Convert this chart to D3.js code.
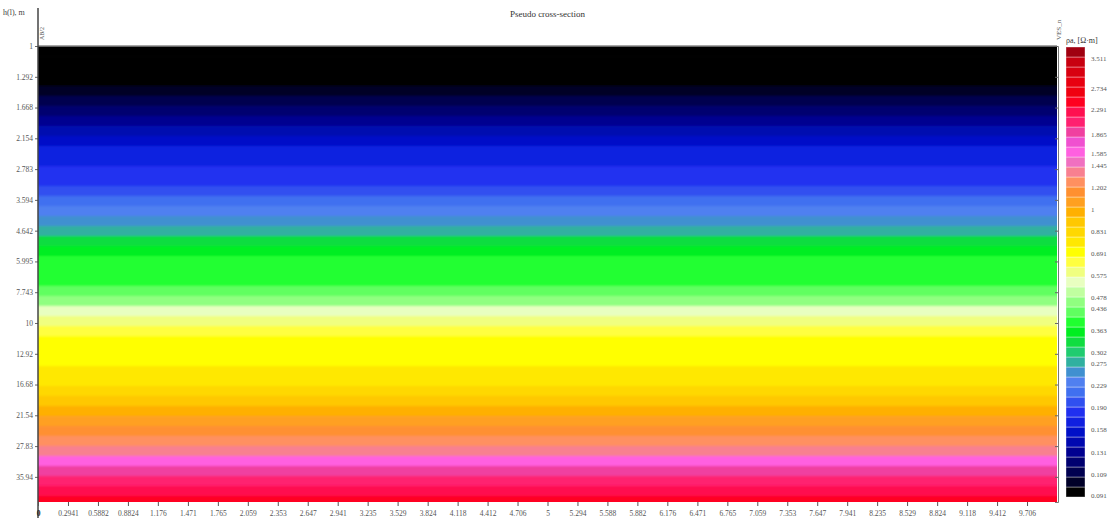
<!DOCTYPE html>
<html>
<head>
<meta charset="utf-8">
<script src="https://cdn.jsdelivr.net/npm/d3@7"></script>
<style>
  body { margin: 0; background: #fff; }
  text { font-family: 'Liberation Serif', serif; }
</style>
</head>
<body>
<script>
// depth of layer boundaries, m (AB/2 pseudo-depth)
const depthEdges = [1, 1.087, 1.181, 1.283, 1.394, 1.515, 1.647, 1.789, 1.945, 2.113, 2.296, 2.495,
  2.712, 2.947, 3.202, 3.479, 3.781, 4.109, 4.465, 4.852, 5.272, 5.729, 6.226, 6.765, 7.352, 7.989,
  8.681, 9.434, 10.25, 11.14, 12.11, 13.15, 14.3, 15.53, 16.88, 18.34, 19.93, 21.66, 23.54, 25.58,
  27.8, 30.21, 32.83, 35.67, 38.77, 42.12, 44.29]
// apparent resistivity of each layer
const rhoRows = [0.092, 0.093, 0.094, 0.096, 0.102, 0.111, 0.121, 0.131, 0.143, 0.155, 0.168, 0.17,
  0.183, 0.186, 0.199, 0.216, 0.235, 0.256, 0.278, 0.329, 0.357, 0.388, 0.39, 0.392, 0.423, 0.459,
  0.543, 0.59, 0.642, 0.698, 0.7, 0.705, 0.759, 0.762, 0.825, 0.897, 0.975, 1.06, 1.152, 1.253,
  1.362, 1.61, 1.903, 2.069, 2.249, 2.446]

const depthTicks = [1, 1.292, 1.668, 2.154, 2.783, 3.594, 4.642, 5.995, 7.743, 10, 12.92, 16.68, 21.54, 27.83, 35.94]
const depthLabels = ['1', '1.292', '1.668', '2.154', '2.783', '3.594', '4.642', '5.995', '7.743', '10',
  '12.92', '16.68', '21.54', '27.83', '35.94']

const xTicks = [0, 0.2941, 0.5882, 0.8824, 1.176, 1.471, 1.765, 2.059, 2.353, 2.647, 2.941, 3.235,
  3.529, 3.824, 4.118, 4.412, 4.706, 5, 5.294, 5.588, 5.882, 6.176, 6.471, 6.765, 7.059, 7.353,
  7.647, 7.941, 8.235, 8.529, 8.824, 9.118, 9.412, 9.706]

// palette, low -> high resistivity
const legendColors = ['#000000', '#000028', '#000050', '#000070', '#000090', '#0008b0', '#0010c8',
  '#1020e0', '#2030f0', '#3050f0', '#4070f0', '#5080f0', '#4090d0', '#30b0a0', '#20cc70', '#10dd40',
  '#00ee20', '#20ff30', '#60ff60', '#90ff80', '#c0ffa0', '#e8ffc0', '#f0ff80', '#ffff40', '#ffff00',
  '#ffe800', '#ffd800', '#ffc800', '#ffb000', '#ffa020', '#ff9030', '#ff9060', '#f88090', '#f070c0',
  '#ff60e0', '#f050d0', '#f040a0', '#ff2070', '#ff1050', '#ff0020', '#f00010', '#e80010', '#d80010',
  '#c80010', '#a00010']
const legendTicks = [3.511, 2.734, 2.291, 1.865, 1.585, 1.445, 1.202, 1, 0.831, 0.691, 0.575, 0.478,
  0.436, 0.363, 0.302, 0.275, 0.229, 0.19, 0.158, 0.131, 0.109, 0.091]
const legendLabels = ['3.511', '2.734', '2.291', '1.865', '1.585', '1.445', '1.202', '1', '0.831',
  '0.691', '0.575', '0.478', '0.436', '0.363', '0.302', '0.275', '0.229', '0.190', '0.158', '0.131',
  '0.109', '0.091']

const w = 1113
const h = 519
const svg = d3.select('body').append('svg').attr('width', w).attr('height', h)

const x = d3.scaleLinear().domain([0, 10]).range([38, 1057])
const y = d3.scaleLog().domain([1, 44.29]).range([46, 502])
const rhoMin = 0.09
const rhoMax = 3.88
const color = d3.scaleQuantize().domain([Math.log(rhoMin), Math.log(rhoMax)]).range(legendColors)
const ly = d3.scaleLog().domain([rhoMin, rhoMax]).range([497, 47])

const defs = svg.append('defs')
defs.append('clipPath').attr('id', 'plot')
  .append('rect').attr('x', x(0)).attr('y', y(1)).attr('width', x(10) - x(0)).attr('height', y(44.29) - y(1))
defs.append('filter').attr('id', 'soft').attr('x', '-2%').attr('y', '-5%').attr('width', '104%').attr('height', '110%')
  .append('feGaussianBlur').attr('stdDeviation', '0 1.3').attr('edgeMode', 'duplicate')

// pseudo-section
svg.append('g')
  .attr('clip-path', 'url(#plot)')
  .append('g')
  .attr('filter', 'url(#soft)')
  .selectAll('rect')
  .data(rhoRows)
  .enter()
  .append('rect')
  .attr('x', x(0))
  .attr('width', x(10) - x(0))
  .attr('y', (d, i) => y(depthEdges[i]) - (i === 0 ? 4 : 0))
  .attr('height', (d, i) => y(depthEdges[i + 1]) - y(depthEdges[i]) + (i === 0 || i === rhoRows.length - 1 ? 4.5 : 0.5))
  .attr('fill', (d) => color(Math.log(d)))

// frame lines
svg.append('line').attr('x1', x(0)).attr('x2', x(10)).attr('y1', 46).attr('y2', 46)
  .attr('stroke', '#888').attr('stroke-width', 1.5)

// left axis
const yAxis = d3.axisLeft(y).tickValues(depthTicks).tickFormat((d, i) => depthLabels[i]).tickSize(3)
const gy = svg.append('g').attr('transform', `translate(${x(0)},0)`).call(yAxis)
gy.select('.domain').remove()
gy.selectAll('text').attr('font-size', 7.5).attr('fill', '#555').attr('dx', 1)
gy.selectAll('line').attr('stroke', '#666')
svg.append('line').attr('x1', x(0)).attr('x2', x(0)).attr('y1', 8).attr('y2', 518)
  .attr('stroke', '#444').attr('stroke-width', 1.5)

// right axis
const yAxisR = d3.axisLeft(y).tickValues(depthTicks).tickFormat('').tickSize(3)
const gr = svg.append('g').attr('transform', `translate(${x(10) + 1},0)`).call(yAxisR)
gr.select('.domain').attr('stroke', '#777')
gr.selectAll('line').attr('stroke', '#666')

// bottom axis
const xAxis = d3.axisBottom(x).tickValues(xTicks).tickSize(4)
  .tickFormat((d) => (d === 0 ? '0' : String(d)))
const gx = svg.append('g').attr('transform', `translate(0,${y(44.29)})`).call(xAxis)
gx.select('.domain').remove()
gx.selectAll('line').attr('stroke', '#555')
gx.selectAll('text').attr('font-size', 7.5).attr('fill', '#555').attr('dy', '0.9em')
gx.selectAll('.tick').filter((d) => d === 0).select('text').attr('font-weight', 'bold').attr('fill', '#222')

// titles
svg.append('text').attr('x', (x(0) + x(10)) / 2).attr('y', 17).attr('text-anchor', 'middle')
  .attr('font-size', 9).attr('fill', '#333').text('Pseudo cross-section')
svg.append('text').attr('x', 3).attr('y', 15).attr('font-size', 8).attr('fill', '#444').text('h(l), m')
svg.append('text').attr('transform', 'translate(44,40) rotate(-90)').attr('font-size', 6)
  .attr('fill', '#555').text('AB/2')
svg.append('text').attr('transform', `translate(${x(10) + 4},40) rotate(-90)`).attr('font-size', 7)
  .attr('fill', '#555').text('VES_n')

// legend
const edges = [rhoMin, ...color.thresholds().map(Math.exp), rhoMax]
const lg = svg.append('g')
lg.selectAll('rect')
  .data(legendColors)
  .enter()
  .append('rect')
  .attr('x', 1066)
  .attr('width', 19)
  .attr('y', (d, i) => ly(edges[i + 1]))
  .attr('height', (d, i) => ly(edges[i]) - ly(edges[i + 1]))
  .attr('fill', (d) => d)
  .attr('stroke', 'rgba(255,255,255,0.45)')
  .attr('stroke-width', 0.8)
lg.selectAll('text')
  .data(legendTicks)
  .enter()
  .append('text')
  .attr('x', 1091)
  .attr('y', (d) => ly(d))
  .attr('dy', '0.35em')
  .attr('font-size', 7)
  .attr('fill', '#555')
  .text((d, i) => legendLabels[i])
svg.append('text').attr('x', 1066).attr('y', 43).attr('font-size', 8).attr('fill', '#333')
  .text('ρa, [Ω·m]')
</script>
</body>
</html>
